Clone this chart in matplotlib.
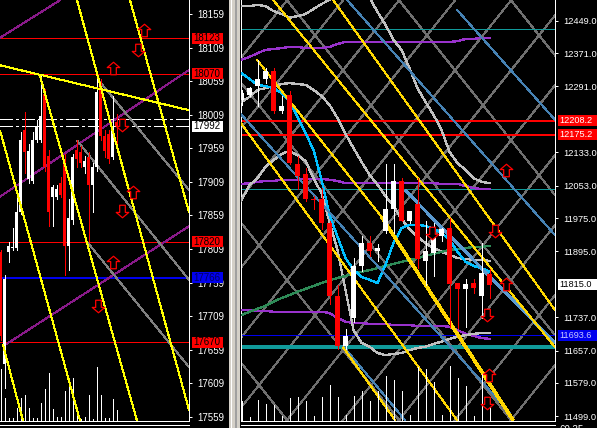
import matplotlib
matplotlib.use("Agg")
import matplotlib.pyplot as plt
import numpy as np
from matplotlib.patches import Rectangle
from matplotlib.lines import Line2D
from matplotlib.path import Path
from matplotlib.transforms import IdentityTransform, blended_transform_factory

plt.rcParams['font.family'] = ['Liberation Sans', 'DejaVu Sans']

# ---------------- left chart (index ~17.9k) ----------------
L_OPEN = [17804, 17637, 17804, 17811, 17811, 17864, 17987, 17913, 17910, 17972,
          17972, 18040, 17947, 17887, 17887, 17908, 17938, 17813, 17853, 17957,
          17953, 17931, 17946, 17905, 17931, 18055, 17977, 17980, 17946, 17998]
L_HIGH = [17808, 17771, 17819, 17841, 17893, 17983, 18014, 17965, 17983, 18002,
          18068, 18047, 17957, 17905, 17905, 17916, 17950, 17883, 17950, 17972,
          17962, 17947, 17953, 17938, 18062, 18062, 17987, 17987, 18037, 18010]
L_LOW = [17674, 17602, 17790, 17808, 17808, 17861, 17923, 17908, 17908, 17969,
         17969, 17925, 17843, 17843, 17883, 17886, 17771, 17778, 17846, 17932,
         17932, 17923, 17819, 17864, 17925, 17972, 17946, 17938, 17943, 17962]
L_CLOSE = [17680, 17764, 17813, 17812, 17864, 17972, 17953, 17955, 17972, 17992,
           18007, 17931, 17864, 17901, 17898, 17890, 17813, 17856, 17946, 17943,
           17938, 17940, 17905, 17931, 18043, 17977, 17955, 17943, 17992, 17992]
L_VOL = [1300, 575, 75, 75, 325, 575, 650, 325, 75, 75, 450, 800, 1200, 300, 100,
         100, 750, 850, 1075, 200, 50, 100, 650, 50, 1350, 650, 75, 75, 550, 275]
L_TICKS = [18159, 18109, 18059, 18009, 17959, 17909, 17859, 17809, 17759,
           17709, 17659, 17609, 17559]
L_RED_LEVELS = [18123, 18070, 17820, 17670]
L_BLUE_LEVEL = 17766
L_DASH_LEVELS = [18003, 17992]
L_LAST = 17992
# trend lines: (bar0, price0, bar1, price1)
L_YELLOW = [(-0.125, 18083, 47.125, 18016), (-0.125, 17986, 19.875, 17553),
            (9.875, 18067, 34.125, 17553), (19.125, 18180, 47.125, 17569),
            (32.375, 18180, 47.125, 17864), (0.625, 17666, 5.625, 17553)]
L_PURPLE = [(-0.125, 18124, 14.875, 18180), (-0.125, 17887, 47.125, 18076),
            (0.625, 17664, 47.125, 17843)]
L_GRAY = [(24.875, 18058, 47.125, 17897), (19.125, 17971, 47.125, 17763),
          (21.875, 17818, 47.125, 17633)]
L_UP_ARROWS = [(35.9, 18136), (28.1, 18079), (33.1, 17894), (28.1, 17790)]
L_DOWN_ARROWS = [(34.4, 18106), (30.4, 17994), (30.4, 17866), (24.4, 17724)]

# ---------------- right chart (index ~11.9k) ----------------
R_OPEN = [12259, 12271, 12291, 12310, 12329, 12231, 12271, 12106, 12080, 12022,
          12022, 11964, 11789, 11669, 11736, 11859, 11916, 11897, 11943, 11996,
          12065, 11969, 12010, 11871, 11892, 11931, 11950, 11818, 11804, 11818,
          11789, 11840]
R_HIGH = [12283, 12290, 12355, 12336, 12336, 12269, 12279, 12125, 12096, 12027,
          12048, 11967, 11814, 11708, 11880, 11933, 11931, 11912, 12106, 12104,
          12072, 11993, 12072, 11967, 11962, 11950, 11976, 11818, 11828, 11828,
          11914, 11852]
R_LOW = [12247, 12267, 12243, 12300, 12228, 12228, 12104, 12044, 12015, 11996,
         11948, 11768, 11660, 11660, 11725, 11849, 11885, 11873, 11940, 11940,
         11967, 11964, 11856, 11814, 11835, 11919, 11713, 11710, 11713, 11796,
         11736, 11784]
R_CLOSE = [12276, 12288, 12310, 12329, 12231, 12245, 12108, 12077, 12020, 12018,
           11964, 11789, 11669, 11691, 11861, 11916, 11895, 11902, 11996, 12065,
           11969, 11993, 11876, 11895, 11940, 11948, 11816, 11804, 11816, 11808,
           11844, 11815]
R_VOL = [500, 100, 525, 425, 400, 125, 575, 600, 500, 125, 600, 900, 600, 150,
         625, 750, 500, 750, 1125, 1025, 750, 150, 1350, 1300, 975, 150, 1375,
         1075, 875, 125, 1175, 550]
R_MA_CYAN = [12323, 12309, 12295, 12292, 12287, 12275, 12256, 12218, 12179, 12139,
             12067, 11983, 11930, 11879, 11851, 11834, 11827, 11819, 11863, 11915,
             11951, 11959, 11959, 11956, 11949, 11939, 11923, 11894, 11870, 11860,
             11855, 11846]
R_BAND_UP = [12484, 12484, 12487, 12484, 12472, 12465, 12456, 12460, 12465, 12477,
             12489, 12499, 12523, 12542, 12547, 12535, 12504, 12470, 12439, 12403,
             12379, 12335, 12287, 12254, 12223, 12187, 12134, 12107, 12091, 12071,
             12062, 12059]
R_BAND_LOW = [12018, 12054, 12071, 12098, 12114, 12129, 12136, 12126, 12112, 12071,
              12035, 11966, 11898, 11802, 11706, 11675, 11666, 11651, 11646, 11649,
              11651, 11658, 11663, 11666, 11673, 11678, 11685, 11690, 11694, 11697,
              11699, 11699]
R_MA_GRAY = [12254, 12266, 12283, 12287, 12292, 12297, 12299, 12297, 12295, 12283,
             12268, 12247, 12215, 12177, 12143, 12110, 12079, 12055, 12028, 12004,
             11973, 11949, 11930, 11915, 11903, 11894, 11887, 11879, 11877, 11875,
             11875, 11872]
R_MA_GREEN = [11742, 11750, 11757, 11764, 11774, 11783, 11790, 11798, 11805, 11812,
              11819, 11826, 11831, 11836, 11841, 11846, 11850, 11855, 11860, 11865,
              11870, 11874, 11879, 11884, 11889, 11894, 11898, 11901, 11903, 11906,
              11906, 11908]
R_ENV_TOP = [12355, 12362, 12371, 12379, 12381, 12383, 12386, 12386, 12383, 12383,
             12383, 12386, 12393, 12398, 12398, 12398, 12398, 12398, 12398, 12398,
             12398, 12398, 12398, 12398, 12398, 12398, 12398, 12400, 12405, 12405,
             12408, 12408]
R_ENV_MID = [12057, 12059, 12062, 12064, 12064, 12067, 12067, 12067, 12069, 12069,
             12069, 12067, 12064, 12059, 12059, 12059, 12059, 12059, 12059, 12059,
             12059, 12059, 12059, 12059, 12059, 12057, 12057, 12057, 12052, 12047,
             12045, 12045]
R_ENV_LOW = [11754, 11754, 11752, 11752, 11750, 11750, 11750, 11750, 11750, 11750,
             11750, 11747, 11735, 11726, 11723, 11723, 11721, 11721, 11721, 11718,
             11718, 11718, 11716, 11716, 11716, 11716, 11714, 11706, 11697, 11692,
             11687, 11685]
R_TICKS = [12449.0, 12371.0, 12291.0, 12133.0, 12053.0, 11975.0, 11895.0,
           11737.0, 11657.0, 11579.0, 11499.0]
R_RED_LEVELS = [12208.2, 12175.2]
R_BLUE_LEVEL = 11693.6
R_TEAL_LEVELS = [12430, 12045]
R_TEAL_THICK = 11665
R_LAST = 11815.0
R_YELLOW = [(2.94, 12499, 38.19, 11665), (10.44, 12499, 38.19, 11754),
            (0.94, 12355, 16.5, 11978), (-1.19, 12206, 25.94, 11490),
            (11.69, 11665, 18.19, 11490)]
R_YELLOW_THICK = [(16.5, 11978, 32.94, 11490)]
R_STEEL = [(12.19, 12499, 38.19, 11934), (25.94, 12475, 38.19, 12211),
           (-1.19, 12227, 32.56, 11507), (11.69, 11668, 19.44, 11490)]
R_STEEL_THICK = [(19.44, 12042, 38.19, 11675)]
R_UP_ARROWS = [(32.1, 12091), (32.1, 11817), (29.9, 11598)]
R_DOWN_ARROWS = [(30.7, 11944), (29.7, 11742), (29.7, 11531), (22.8, 11939)]
# gann grid: anchor bar, anchor price, bar step up/down family, price per bar
GANN = (4.69, 11490, 7, 14, 24.0)

W, H = 597, 428
fig = plt.figure(figsize=(W / 100, H / 100), dpi=100, facecolor='black')
axl = fig.add_axes([0, 7 / H, 189 / W, 421 / H], facecolor='black')
axr = fig.add_axes([241 / W, 7 / H, 314 / W, 421 / H], facecolor='black')

axl.set_xlim(-0.125, 47.125)
axl.set_ylim(17552.6, 18180.3)
axr.set_xlim(-1.0625, 38.1875)
axr.set_ylim(11487.7, 12498.7)

PX = 0.72  # one pixel in points


def candles(ax, x, o, h, l, c, width, min_body):
    o, h, l, c = map(np.asarray, (o, h, l, c))
    up = c >= o
    cols = np.where(up, 'white', 'red')
    ax.vlines(x, l, h, colors=cols, lw=PX, antialiased=False, zorder=5)
    body = np.maximum(np.abs(c - o), min_body)
    ax.bar(x, body, bottom=np.minimum(o, c), width=width, color=cols,
           lw=0, antialiased=False, zorder=6)


def volumes(ax, x, vol):
    tr = blended_transform_factory(ax.transData, ax.transAxes)
    ax.vlines(x, 0, np.asarray(vol) / (421 * 25.0), transform=tr,
              colors='white', lw=PX, antialiased=False, zorder=4)


def segs(ax, lines, color, lw=PX, z=3):
    for x0, p0, x1, p1 in lines:
        ax.plot([x0, x1], [p0, p1], color=color, lw=lw, antialiased=False,
                zorder=z, solid_capstyle='butt')


arrow_up = Path([(0, 1), (-1, 0.15), (-0.45, 0.15), (-0.45, -1), (0.45, -1),
                 (0.45, 0.15), (1, 0.15), (0, 1)], closed=True)
arrow_down = Path([(x, -y) for x, y in arrow_up.vertices], closed=True)


def arrows(ax, pts, marker):
    for x, p in pts:
        ax.plot([x], [p], marker=marker, ms=9, mfc='black', mec='red',
                mew=0.9, zorder=8, clip_on=False)


# ---- left panel ----
lx = np.arange(len(L_OPEN))
for lv in L_RED_LEVELS:
    axl.axhline(lv, color='red', lw=PX, antialiased=False, zorder=2)
axl.axhline(L_BLUE_LEVEL, color='#0000ee', lw=PX * 1.5, antialiased=False, zorder=2)
for lv in L_DASH_LEVELS:
    axl.axhline(lv, color='white', lw=PX * 1.3, ls=(0, (10, 3, 2, 3)),
                antialiased=False, zorder=2)
segs(axl, L_PURPLE, '#8a1a8a')
segs(axl, L_GRAY, '#808080')
segs(axl, L_YELLOW, '#ffff00', z=7)
volumes(axl, lx, L_VOL)
candles(axl, lx, L_OPEN, L_HIGH, L_LOW, L_CLOSE, 0.75, 1.5)
arrows(axl, L_UP_ARROWS, arrow_up)
arrows(axl, L_DOWN_ARROWS, arrow_down)

# ---- right panel ----
rx = np.arange(-1, len(R_OPEN) - 1)
a0, b0, step_up, step_dn, slope = GANN
gx = np.array([-3, 41])
for n in range(-8, 9):
    axr.plot(gx, b0 + slope * (gx - (a0 + step_up * n)), color='#707070', lw=PX,
             antialiased=False, zorder=1)
    axr.plot(gx, b0 - slope * (gx - (a0 + step_dn * n)), color='#707070', lw=PX,
             antialiased=False, zorder=1)
for lv in R_TEAL_LEVELS:
    axr.axhline(lv, color='#109a9a', lw=PX, antialiased=False, zorder=2)
axr.axhline(R_TEAL_THICK, color='#109a9a', lw=PX * 2.5, antialiased=False, zorder=2)
for lv in R_RED_LEVELS:
    axr.axhline(lv, color='red', lw=PX * 1.5, antialiased=False, zorder=2)
axr.axhline(R_BLUE_LEVEL, color='#0000ee', lw=PX, antialiased=False, zorder=2)
for series, col in [(R_ENV_TOP, '#9932cc'), (R_ENV_MID, '#9932cc'),
                    (R_ENV_LOW, '#9932cc'), (R_BAND_UP, '#c0c0c0'),
                    (R_BAND_LOW, '#c0c0c0'), (R_MA_GRAY, '#c0c0c0'),
                    (R_MA_GREEN, '#2e8b57'), (R_MA_CYAN, '#00bfff')]:
    axr.plot(rx, series, color=col, lw=PX * 1.3, antialiased=False, zorder=3)
segs(axr, R_STEEL, '#4682b4')
segs(axr, R_STEEL_THICK, '#5a9ad0', lw=PX * 2)
segs(axr, R_YELLOW, '#ffd700')
segs(axr, R_YELLOW_THICK, '#ffd700', lw=PX * 2.5)
volumes(axr, rx, R_VOL)
candles(axr, rx, R_OPEN, R_HIGH, R_LOW, R_CLOSE, 0.625, 2.4)
arrows(axr, R_UP_ARROWS, arrow_up)
arrows(axr, R_DOWN_ARROWS, arrow_down)

# ---- axes styling ----
for ax, ticks, fmt, size in [(axl, L_TICKS, '{:.0f}', 7), (axr, R_TICKS, '{:.1f}', 6.7)]:
    ax.set_xticks([])
    ax.yaxis.tick_right()
    ax.set_yticks(ticks)
    ax.set_yticklabels([fmt.format(t) for t in ticks])
    ax.tick_params(axis='y', colors='white', labelcolor='white', labelsize=size,
                   length=3 * PX, width=PX, pad=3.5)
    for s in ax.spines.values():
        s.set_color('white')
        s.set_linewidth(PX)
    ax.spines['top'].set_visible(False)
axl.spines['left'].set_visible(False)


def tag(ax, price, text, x0, w, fc, tc, size=7):
    y = ax.transData.transform((0, price))[1]
    fig.patches.append(Rectangle((x0, y - 5.5), w, 11, transform=IdentityTransform(),
                                 facecolor=fc, edgecolor='none', zorder=10))
    fig.text(x0 + 1.5, y, text, transform=IdentityTransform(), color=tc,
             fontsize=size, va='center', ha='left', zorder=11)


tag(axl, 18123, '18123', 192, 31, '#ff0000', 'black')
tag(axl, 18070, '18070', 192, 31, '#ff0000', 'black')
tag(axl, L_LAST, '17992', 192, 31, 'white', 'black')
tag(axl, 17820, '17820', 192, 31, '#ff0000', 'black')
tag(axl, L_BLUE_LEVEL, '17766', 192, 31, '#0000ee', '#000060')
tag(axl, 17670, '17670', 192, 31, '#ff0000', 'black')
tag(axr, 12208.2, '12208.2', 558, 39, '#ff0000', 'white', 6.6)
tag(axr, 12175.2, '12175.2', 558, 39, '#ff0000', 'white', 6.6)
tag(axr, R_LAST, '11815.0', 558, 39, 'white', 'black', 6.6)
tag(axr, R_BLUE_LEVEL, '11693.6', 558, 39, '#0000ee', '#c8c8ff', 6.6)

# window separator and sub-window border
fig.patches.append(Rectangle((229, 0), 11, H, transform=IdentityTransform(),
                             facecolor='#d4d0c8', edgecolor='none'))
fig.patches.append(Rectangle((231, 0), 1, H, transform=IdentityTransform(),
                             facecolor='#ffffff', edgecolor='none'))
fig.patches.append(Rectangle((235, 0), 2, H, transform=IdentityTransform(),
                             facecolor='#a0a0a0', edgecolor='none'))
for xa, xb in [(0, 189), (241, 555)]:
    fig.add_artist(Line2D([xa, xb], [3.5, 3.5], transform=IdentityTransform(),
                          color='white', lw=PX, antialiased=False))
fig.text(560, 3, '60.35', transform=IdentityTransform(), color='white',
         fontsize=7, va='top', ha='left')

fig.savefig('out.png', dpi=100, facecolor='black')
